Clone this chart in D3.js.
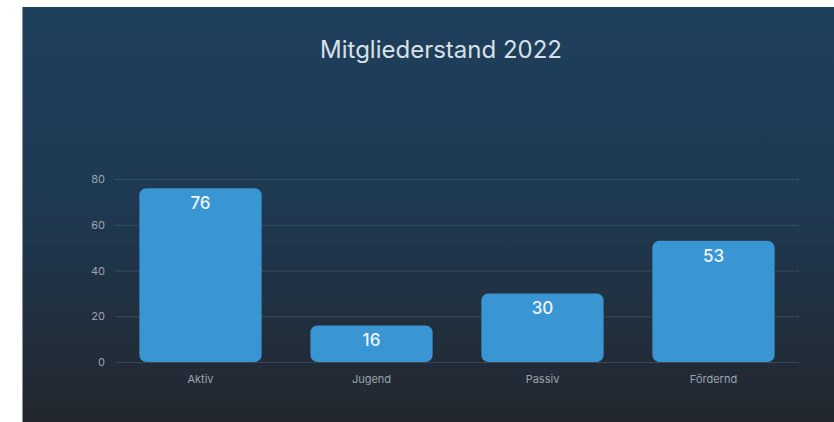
<!DOCTYPE html>
<html>
<head>
<meta charset="utf-8">
<script src="https://cdn.jsdelivr.net/npm/d3@7/dist/d3.min.js"></script>
<style>
  html, body { margin: 0; padding: 0; background: #fff; }
  svg { display: block; font-family: Inter, "Noto Sans", sans-serif; }
</style>
</head>
<body>
<svg id="chart" width="834" height="422"></svg>
<script>
var categories = ['Aktiv', 'Jugend', 'Passiv', 'Fördernd'];
var members = [76, 16, 30, 53];
var yTicks = [0, 20, 40, 60, 80];
var title = 'Mitgliederstand 2022';

var svg = d3.select('#chart');
var card = { x: 22, y: 7, w: 812, h: 415 };
var plot = { left: 115, right: 799, top: 179, bottom: 362 };

var defs = svg.append('defs');
var grad = defs.append('linearGradient')
  .attr('id', 'bg')
  .attr('x1', 0).attr('y1', 0).attr('x2', 0).attr('y2', 1);
grad.append('stop').attr('offset', '0%').attr('stop-color', '#1e3f5c');
grad.append('stop').attr('offset', '45%').attr('stop-color', '#1e3a53');
grad.append('stop').attr('offset', '100%').attr('stop-color', '#23272e');

svg.append('rect')
  .attr('x', card.x).attr('y', card.y)
  .attr('width', card.w).attr('height', card.h)
  .attr('fill', 'url(#bg)');
svg.append('line')
  .attr('x1', card.x + 0.5).attr('x2', card.x + 0.5)
  .attr('y1', card.y).attr('y2', card.y + card.h)
  .attr('stroke', '#8a949e').attr('stroke-width', 1);

svg.append('text')
  .attr('x', 441).attr('y', 58)
  .attr('text-anchor', 'middle')
  .attr('fill', '#d8e0e8')
  .attr('font-size', 24)
  .text(title);

var x = d3.scaleBand()
  .domain(categories)
  .range([plot.left, plot.right])
  .paddingInner(0.285)
  .paddingOuter(0.1425);

var y = d3.scaleLinear()
  .domain([0, 80])
  .range([plot.bottom, plot.top]);

// grid
svg.append('g')
  .selectAll('line')
  .data(yTicks)
  .join('line')
  .attr('x1', plot.left).attr('x2', plot.right)
  .attr('y1', function (d) { return y(d) + 0.5; })
  .attr('y2', function (d) { return y(d) + 0.5; })
  .attr('stroke', 'rgba(255,255,255,0.12)')
  .attr('stroke-width', 1);

// y axis labels
var yAxis = svg.append('g')
  .attr('transform', 'translate(' + (plot.left - 10) + ',0)')
  .call(d3.axisLeft(y).tickValues(yTicks).tickSize(0).tickPadding(0));
yAxis.select('.domain').remove();
yAxis.selectAll('text')
  .attr('fill', '#9aa4ae')
  .attr('font-size', 11)
  .attr('font-family', 'Inter, "Noto Sans", sans-serif');

// x axis labels
var xAxis = svg.append('g')
  .attr('transform', 'translate(0,' + plot.bottom + ')')
  .call(d3.axisBottom(x).tickSize(0).tickPadding(13));
xAxis.select('.domain').remove();
xAxis.selectAll('text')
  .attr('fill', '#9aa4ae')
  .attr('font-size', 11)
  .attr('font-family', 'Inter, "Noto Sans", sans-serif');

// bars
svg.append('g')
  .selectAll('rect')
  .data(members)
  .join('rect')
  .attr('x', function (d, i) { return x(categories[i]); })
  .attr('y', function (d) { return y(d); })
  .attr('width', x.bandwidth())
  .attr('height', function (d) { return y(0) - y(d); })
  .attr('rx', 7)
  .attr('fill', '#3a95d3');

// value labels
svg.append('g')
  .selectAll('text')
  .data(members)
  .join('text')
  .attr('x', function (d, i) { return x(categories[i]) + x.bandwidth() / 2; })
  .attr('y', function (d) { return y(d) + 15; })
  .attr('dy', '0.35em')
  .attr('text-anchor', 'middle')
  .attr('fill', '#eef4fa')
  .attr('font-size', 17)
  .attr('font-weight', 500)
  .text(function (d) { return d; });
</script>
</body>
</html>
